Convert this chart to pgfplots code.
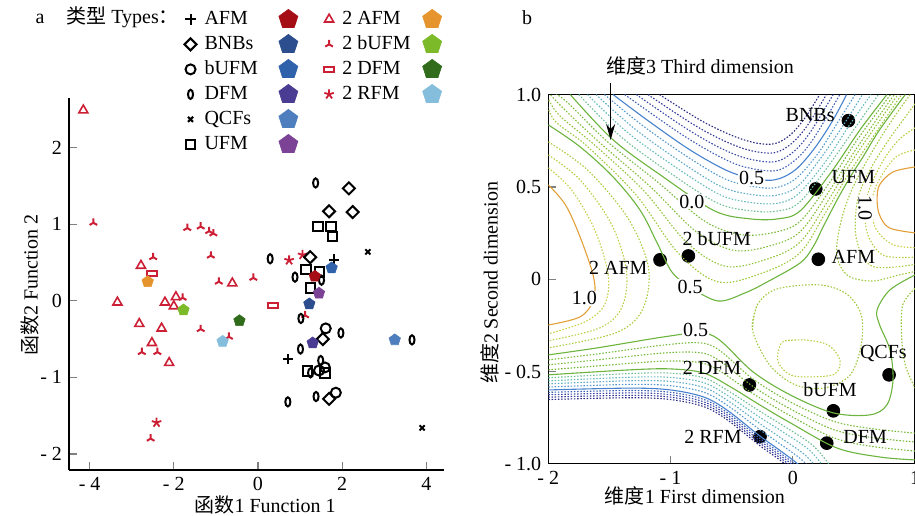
\documentclass[border=0pt]{standalone}
\usepackage{fontspec}
\setmainfont{Liberation Serif}
\newfontfamily\cjk{Noto Sans CJK SC}
\usepackage{pgfplots}
\pgfplotsset{compat=1.18}
\usetikzlibrary{arrows.meta}

% point colours
\definecolor{redm}{RGB}{204,30,52}
\definecolor{pAFM}{RGB}{166,14,22}
\definecolor{pBNB}{RGB}{44,78,142}
\definecolor{pbUFM}{RGB}{48,98,172}
\definecolor{pDFM}{RGB}{74,60,146}
\definecolor{pQCF}{RGB}{78,126,190}
\definecolor{pUFM}{RGB}{124,66,150}
\definecolor{ptAFM}{RGB}{230,148,46}
\definecolor{ptbUFM}{RGB}{124,186,42}
\definecolor{ptDFM}{RGB}{48,108,28}
\definecolor{ptRFM}{RGB}{132,190,220}
% contour colours
\definecolor{cb0}{RGB}{40,40,130}
\definecolor{cb1}{RGB}{50,55,150}
\definecolor{cb2}{RGB}{55,72,165}
\definecolor{cb3}{RGB}{62,92,182}
\definecolor{cbl}{RGB}{70,130,205}
\definecolor{cc1}{RGB}{80,150,208}
\definecolor{cc2}{RGB}{90,170,200}
\definecolor{cc3}{RGB}{100,186,185}
\definecolor{cc4}{RGB}{108,190,150}
\definecolor{cgr}{RGB}{108,180,62}
\definecolor{cy1}{RGB}{118,186,58}
\definecolor{cy2}{RGB}{132,190,56}
\definecolor{cy3}{RGB}{146,196,56}
\definecolor{cy4}{RGB}{158,200,58}
\definecolor{cy5}{RGB}{170,203,62}
\definecolor{cy6}{RGB}{184,206,66}
\definecolor{cy7}{RGB}{198,208,72}
\definecolor{cor}{RGB}{226,160,56}

\pgfdeclareplotmark{ell}{\pgfpathellipse{\pgfpointorigin}{\pgfqpoint{0.55\pgfplotmarksize}{0pt}}{\pgfqpoint{0pt}{\pgfplotmarksize}}\pgfusepathqstroke}
\pgfdeclareplotmark{hrect}{\pgfpathrectangle{\pgfqpoint{-\pgfplotmarksize}{-0.45\pgfplotmarksize}}{\pgfqpoint{2\pgfplotmarksize}{0.9\pgfplotmarksize}}\pgfusepathqstroke}
\pgfdeclareplotmark{dia}{\pgfpathmoveto{\pgfqpoint{0pt}{\pgfplotmarksize}}\pgfpathlineto{\pgfqpoint{\pgfplotmarksize}{0pt}}\pgfpathlineto{\pgfqpoint{0pt}{-\pgfplotmarksize}}\pgfpathlineto{\pgfqpoint{-\pgfplotmarksize}{0pt}}\pgfpathclose\pgfusepathqstroke}

\pgfplotsset{
  ctr/.style={no markers, smooth, tension=0.55, line width=0.55pt},
  dtr/.style={ctr, dash pattern=on 0.75pt off 0.85pt},
  mAFM/.style={only marks, mark=+, black, mark size=2.6pt, line width=1pt},
  mBNB/.style={only marks, mark=dia, black, mark size=3pt, line width=1pt},
  mbUFM/.style={only marks, mark=o, black, mark size=2.5pt, line width=1pt},
  mDFM/.style={only marks, mark=ell, black, mark size=2.3pt, line width=1pt},
  mQCF/.style={only marks, mark=x, black, mark size=1.8pt, line width=1pt},
  mUFM/.style={only marks, mark=square, black, mark size=2.4pt, line width=1pt},
  mtAFM/.style={only marks, mark=triangle, redm, mark size=2.6pt, line width=0.8pt},
  mtbUFM/.style={only marks, mark=Mercedes star, redm, mark size=2.2pt, line width=1pt},
  mtDFM/.style={only marks, mark=hrect, redm, mark size=2.6pt, line width=0.9pt},
  mtRFM/.style={only marks, mark=star, redm, mark size=2.5pt, line width=0.9pt},
  pent/.style={only marks, mark=pentagon*, mark size=#1, line width=0.3pt},
}

\begin{document}
\begin{tikzpicture}
% ---------------- panel a ----------------
\begin{axis}[
  at={(34.5pt,22.5pt)}, anchor=south west,
  scale only axis, width=187.5pt, height=186pt,
  xmin=-4.49, xmax=4.42, ymin=-2.21, ymax=2.65,
  axis lines*=left, tick align=inside, major tick length=4pt,
  axis line style={line width=0.6pt}, tick style={line width=0.6pt},
  xtick={-4,-2,0,2,4}, xticklabels={- 4,- 2,0,2,4},
  ytick={-2,-1,0,1,2}, yticklabels={- 2,- 1,0,1,2},
  xlabel={{\cjk 函数}1 Function 1},
  ylabel={{\cjk 函数}2 Function 2},
  xlabel style={at={(axis description cs:0.523,-0.094)}, anchor=center},
  ylabel style={at={(axis description cs:-0.104,0.497)}, anchor=center},
  clip=false,
  legend columns=4,
  legend cell align=left,
  legend image code/.code={\draw[#1] plot coordinates {(0pt,0pt)};},
  legend style={at={(axis description cs:0.307,1.242)}, anchor=north west,
    draw=none, fill=none, inner sep=0pt, row sep=1.5pt, column sep=0pt,
    nodes={inner sep=1pt, text height=7pt, text depth=2pt},
    /tikz/column 1/.style={column sep=3pt},
    /tikz/column 2/.style={column sep=9.5pt},
    /tikz/column 4/.style={column sep=11pt},
    /tikz/column 5/.style={column sep=3pt},
    /tikz/column 6/.style={column sep=5pt}},
]
\addlegendimage{mAFM}\addlegendentry{AFM}
\addlegendimage{pent=5pt, pAFM}\addlegendentry{}
\addlegendimage{mtAFM}\addlegendentry{2 AFM}
\addlegendimage{pent=5pt, ptAFM}\addlegendentry{}
\addlegendimage{mBNB}\addlegendentry{BNBs}
\addlegendimage{pent=5pt, pBNB}\addlegendentry{}
\addlegendimage{mtbUFM}\addlegendentry{2 bUFM}
\addlegendimage{pent=5pt, ptbUFM}\addlegendentry{}
\addlegendimage{mbUFM}\addlegendentry{bUFM}
\addlegendimage{pent=5pt, pbUFM}\addlegendentry{}
\addlegendimage{mtDFM}\addlegendentry{2 DFM}
\addlegendimage{pent=5pt, ptDFM}\addlegendentry{}
\addlegendimage{mDFM}\addlegendentry{DFM}
\addlegendimage{pent=5pt, pDFM}\addlegendentry{}
\addlegendimage{mtRFM}\addlegendentry{2 RFM}
\addlegendimage{pent=5pt, ptRFM}\addlegendentry{}
\addlegendimage{mQCF}\addlegendentry{QCFs}
\addlegendimage{pent=5pt, pQCF}\addlegendentry{}
\addlegendimage{empty legend}\addlegendentry{}
\addlegendimage{empty legend}\addlegendentry{}
\addlegendimage{mUFM}\addlegendentry{UFM}
\addlegendimage{pent=5pt, pUFM}\addlegendentry{}

\addplot[forget plot, mtAFM] coordinates {(-4.15,2.49) (-2.78,0.46) (-0.61,0.23) (-3.34,-0.02) (-2.21,-0.02) (-1.95,0.05) (-2.00,-0.07) (-2.82,-0.30) (-2.29,-0.36) (-2.52,-0.55) (-2.11,-0.81)};
\addplot[forget plot, mtbUFM] coordinates {(-3.91,1.02) (-1.68,0.95) (-1.36,0.97) (-1.16,0.91) (-1.06,0.88) (-2.49,0.57) (-1.12,0.59) (-0.93,0.25) (-0.11,0.30) (-1.79,0.04) (-1.36,-0.37) (-0.69,-0.47) (-2.76,-0.67) (-2.39,-0.67) (-2.55,-1.80) (1.12,-0.19)};
\addplot[forget plot, mtDFM] coordinates {(-2.52,0.36) (0.36,-0.06)};
\addplot[forget plot, mtRFM] coordinates {(0.74,0.53) (1.06,0.60) (-2.41,-1.59)};
\addplot[forget plot, mAFM] coordinates {(1.81,0.54) (0.72,-0.76)};
\addplot[forget plot, mBNB] coordinates {(2.16,1.47) (1.69,1.17) (2.25,1.16) (1.24,0.57) (1.54,-0.50) (1.69,-1.28)};
\addplot[forget plot, mbUFM] coordinates {(1.61,-0.36) (1.45,-0.91) (1.59,-0.87) (1.85,-1.20)};
\addplot[forget plot, mDFM] coordinates {(1.37,1.54) (0.29,0.55) (0.88,0.31) (1.51,0.27) (1.02,-0.23) (1.97,-0.42) (3.66,-0.51) (1.01,-0.63) (1.49,-0.78) (1.25,-0.94) (1.38,-1.25) (0.71,-1.32)};
\addplot[forget plot, mQCF] coordinates {(2.61,0.64) (3.90,-1.66)};
\addplot[forget plot, mUFM] coordinates {(1.43,0.97) (1.73,0.97) (1.77,0.84) (1.14,0.41) (1.46,0.38) (1.25,0.17) (1.18,-0.92) (1.59,-0.94)};
% centroids
\addplot[forget plot, pent=3pt, pAFM] coordinates {(1.35,0.32)};
\addplot[forget plot, pent=3pt, pbUFM] coordinates {(1.75,0.43)};
\addplot[forget plot, pent=3pt, pBNB] coordinates {(1.22,-0.04)};
\addplot[forget plot, pent=3pt, pDFM] coordinates {(1.30,-0.55)};
\addplot[forget plot, pent=3pt, pQCF] coordinates {(3.25,-0.51)};
\addplot[forget plot, pent=3pt, pUFM] coordinates {(1.45,0.10)};
\addplot[forget plot, pent=3pt, ptAFM] coordinates {(-2.62,0.25)};
\addplot[forget plot, pent=3pt, ptbUFM] coordinates {(-1.77,-0.12)};
\addplot[forget plot, pent=3pt, ptDFM] coordinates {(-0.44,-0.26)};
\addplot[forget plot, pent=3pt, ptRFM] coordinates {(-0.84,-0.53)};

\node[anchor=base] at (axis description cs:-0.077,1.199) {a};
\node[anchor=base west, inner sep=0pt] at (axis description cs:-0.008,1.199) {{\cjk 类型} Types{\cjk ：}};
\end{axis}

% ---------------- panel b ----------------
\begin{axis}[
  at={(274.15pt,25.6pt)}, anchor=south west,
  scale only axis, width=183.35pt, height=184.6pt,
  xmin=-2, xmax=1, ymin=-1, ymax=1,
  tick pos=left, tick align=inside, major tick length=4pt,
  axis line style={line width=0.6pt}, tick style={line width=0.6pt},
  xtick={-2,-1,0,1}, xticklabels={- 2,- 1,0,1},
  ytick={-1,-0.5,0,0.5,1}, yticklabels={- 1.0,- 0.5,0,0.5,1.0},
  xlabel={{\cjk 维度}1 First dimension},
  ylabel={{\cjk 维度}2 Second dimension},
  xlabel style={at={(axis description cs:0.40,-0.087)}, anchor=center},
  ylabel style={at={(axis description cs:-0.159,0.49)}, anchor=center},
  clip mode=individual,
]
\addplot[only marks, mark=*, mark size=3.2pt, black] coordinates {(0.455,0.859) (0.188,0.489) (0.209,0.108) (-0.854,0.126) (-1.086,0.105) (0.788,-0.518) (0.332,-0.713) (0.278,-0.888) (-0.355,-0.573) (-0.268,-0.853)};

% upper basin
\addplot[dtr, cb0] coordinates {(-1.09,1) (-0.76,0.863) (-0.51,0.782) (-0.31,0.739) (-0.15,0.734) (-0.02,0.782) (0.10,0.874) (0.22,1)};
\addplot[dtr, cb1] coordinates {(-1.185,1) (-0.82,0.841) (-0.56,0.749) (-0.345,0.697) (-0.15,0.685) (-0.01,0.735) (0.12,0.833) (0.275,1)};
\addplot[dtr, cb2] coordinates {(-1.28,1) (-0.88,0.820) (-0.605,0.715) (-0.38,0.655) (-0.15,0.636) (0.0,0.687) (0.14,0.793) (0.33,1)};
\addplot[dtr, cb3] coordinates {(-1.375,1) (-0.94,0.798) (-0.65,0.682) (-0.415,0.612) (-0.15,0.587) (0.01,0.640) (0.16,0.752) (0.385,1)};
\addplot[ctr, cbl] coordinates {(-1.47,1) (-1.17,0.852) (-0.84,0.700) (-0.55,0.592) (-0.35,0.549) (-0.15,0.538) (0.02,0.592) (0.18,0.711) (0.33,0.863) (0.44,1)};
\addplot[dtr, cc1] coordinates {(-1.54,1) (-1.23,0.833) (-0.88,0.671) (-0.57,0.548) (-0.35,0.505) (-0.14,0.496) (0.03,0.548) (0.21,0.684) (0.37,0.852) (0.51,1)};
\addplot[dtr, cc2] coordinates {(-1.61,1) (-1.29,0.813) (-0.93,0.642) (-0.59,0.503) (-0.35,0.460) (-0.14,0.454) (0.04,0.503) (0.23,0.657) (0.42,0.841) (0.57,1)};
\addplot[dtr, cc3] coordinates {(-1.68,1) (-1.35,0.794) (-0.97,0.612) (-0.60,0.459) (-0.35,0.416) (-0.13,0.411) (0.04,0.459) (0.26,0.630) (0.46,0.831) (0.64,1)};
\addplot[dtr, cc4] coordinates {(-1.75,1) (-1.41,0.774) (-1.02,0.583) (-0.62,0.414) (-0.35,0.371) (-0.13,0.369) (0.05,0.414) (0.28,0.603) (0.51,0.820) (0.70,1)};
\addplot[ctr, cgr] coordinates {(-1.82,1) (-1.47,0.755) (-1.06,0.554) (-0.64,0.370) (-0.35,0.327) (-0.12,0.327) (0.06,0.370) (0.31,0.576) (0.55,0.809) (0.77,1)};
\addplot[dtr, cy1] coordinates {(-2.05,1.05) (-1.86,0.967) (-1.52,0.747) (-1.11,0.529) (-0.72,0.314) (-0.42,0.241) (-0.15,0.254) (0.06,0.314) (0.30,0.523) (0.53,0.758) (0.80,1)};
\addplot[dtr, cy2] coordinates {(-2.05,1.05) (-1.89,0.934) (-1.58,0.740) (-1.17,0.504) (-0.79,0.257) (-0.48,0.156) (-0.18,0.182) (0.06,0.257) (0.29,0.470) (0.52,0.707) (0.83,1)};
\addplot[dtr, cy3] coordinates {(-2.05,1.05) (-1.93,0.902) (-1.63,0.732) (-1.22,0.480) (-0.87,0.201) (-0.55,0.070) (-0.21,0.109) (0.06,0.201) (0.28,0.416) (0.50,0.656) (0.86,1)};
\addplot[dtr, cy4] coordinates {(-2.05,1.05) (-1.96,0.869) (-1.69,0.725) (-1.28,0.455) (-0.94,0.144) (-0.61,-0.015) (-0.24,0.036) (0.06,0.144) (0.27,0.363) (0.49,0.605) (0.89,1)};
\addplot[ctr, cgr] coordinates {(-2.00,0.836) (-1.74,0.717) (-1.47,0.554) (-1.25,0.375) (-1.11,0.197) (-0.99,0.040) (-0.84,-0.042) (-0.61,-0.118) (-0.39,-0.074) (-0.21,-0.015) (0.06,0.088) (0.166,0.175) (0.248,0.283) (0.363,0.430) (0.47,0.554) (0.575,0.663) (0.71,0.809) (0.92,1)};
% left high region
\addplot[dtr, cy5] coordinates {(-2,0.744) (-1.68,0.592) (-1.35,0.332) (-1.18,0.061) (-1.23,-0.166) (-1.45,-0.291) (-2,-0.372)};
\addplot[dtr, cy6] coordinates {(-2,0.673) (-1.74,0.538) (-1.48,0.294) (-1.36,0.040) (-1.40,-0.155) (-1.58,-0.264) (-2,-0.334)};
\addplot[dtr, cy7] coordinates {(-2,0.603) (-1.81,0.484) (-1.62,0.267) (-1.51,0.023) (-1.54,-0.139) (-1.70,-0.231) (-2,-0.296)};
\addplot[ctr, cor] coordinates {(-2.00,0.511) (-1.86,0.403) (-1.74,0.229) (-1.63,0.012) (-1.63,-0.112) (-1.74,-0.204) (-2.00,-0.248)};
% right high region
\addplot[dtr, cy4] coordinates {(0.96,1.0) (0.80,0.85) (0.64,0.68) (0.48,0.48) (0.39,0.30) (0.36,0.13) (0.45,0.02) (0.65,-0.01) (0.85,0.02) (1.0,0.042)};
\addplot[dtr, cy5] coordinates {(1.0,0.95) (0.90,0.86) (0.77,0.74) (0.63,0.59) (0.53,0.43) (0.52,0.22) (0.65,0.07) (1.0,0.08)};
\addplot[dtr, cy6] coordinates {(1.0,0.82) (0.86,0.75) (0.72,0.62) (0.60,0.43) (0.61,0.25) (0.74,0.13) (1.0,0.12)};
\addplot[dtr, cy7] coordinates {(1.0,0.70) (0.84,0.66) (0.70,0.53) (0.645,0.41) (0.675,0.28) (0.81,0.19) (1.0,0.17)};
\addplot[ctr, cor] coordinates {(1.0,0.608) (0.82,0.581) (0.71,0.511) (0.69,0.430) (0.71,0.348) (0.79,0.278) (1.0,0.251)};
% lower basin
\addplot[ctr, cgr] coordinates {(-2.00,-0.410) (-1.60,-0.372) (-1.06,-0.313) (-0.76,-0.291) (-0.60,-0.329) (-0.325,-0.502) (-0.02,-0.627) (0.33,-0.724) (0.63,-0.735) (0.77,-0.681) (0.82,-0.546) (0.795,-0.383) (0.71,-0.247) (0.69,-0.166) (0.795,-0.058) (1.00,0.023)};
\addplot[dtr, cy1] coordinates {(-2,-0.437) (-1.60,-0.405) (-1.06,-0.357) (-0.76,-0.345) (-0.60,-0.385) (-0.325,-0.541) (-0.02,-0.665) (0.33,-0.769) (0.63,-0.808) (1.0,-0.834)};
\addplot[dtr, cy1] coordinates {(-2,-0.464) (-1.60,-0.437) (-1.06,-0.400) (-0.76,-0.398) (-0.60,-0.441) (-0.325,-0.581) (-0.02,-0.703) (0.33,-0.814) (0.63,-0.856) (1.0,-0.882)};
\addplot[dtr, cy1] coordinates {(-2,-0.491) (-1.60,-0.470) (-1.06,-0.444) (-0.76,-0.452) (-0.60,-0.496) (-0.325,-0.620) (-0.02,-0.740) (0.33,-0.858) (0.63,-0.904) (1.0,-0.931)};
\addplot[ctr, cgr] coordinates {(-2.00,-0.518) (-1.33,-0.491) (-1.00,-0.486) (-0.73,-0.508) (-0.51,-0.583) (-0.27,-0.681) (-0.02,-0.778) (0.36,-0.914) (0.71,-0.963) (1.00,-0.979)};
\addplot[dtr, cc4] coordinates {(-2,-0.534) (-1.33,-0.511) (-1.00,-0.509) (-0.73,-0.534) (-0.54,-0.600) (-0.27,-0.715) (-0.06,-0.801) (0.17,-0.904) (0.34,-1.04)};
\addplot[dtr, cc3] coordinates {(-2,-0.551) (-1.33,-0.531) (-1.00,-0.532) (-0.73,-0.560) (-0.54,-0.627) (-0.27,-0.748) (-0.07,-0.832) (0.14,-0.928) (0.28,-1.04)};
\addplot[dtr, cc2] coordinates {(-2,-0.567) (-1.33,-0.550) (-1.00,-0.554) (-0.73,-0.586) (-0.54,-0.654) (-0.27,-0.782) (-0.09,-0.863) (0.10,-0.952) (0.22,-1.04)};
\addplot[dtr, cc1] coordinates {(-2,-0.584) (-1.33,-0.570) (-1.00,-0.577) (-0.73,-0.612) (-0.54,-0.681) (-0.27,-0.815) (-0.10,-0.894) (0.07,-0.976) (0.16,-1.04)};
\addplot[ctr, cbl] coordinates {(-2,-0.600) (-1.33,-0.590) (-1.00,-0.600) (-0.73,-0.638) (-0.54,-0.708) (-0.27,-0.849) (-0.11,-0.925) (0.04,-1.0) (0.10,-1.04)};
\addplot[dtr, cb3] coordinates {(-2,-0.613) (-1.33,-0.603) (-1.00,-0.613) (-0.73,-0.651) (-0.54,-0.721) (-0.27,-0.862) (-0.11,-0.938) (0.04,-1.013)};
\addplot[dtr, cb2] coordinates {(-2,-0.626) (-1.33,-0.616) (-1.00,-0.626) (-0.73,-0.664) (-0.54,-0.734) (-0.27,-0.875) (-0.11,-0.951) (0.04,-1.026)};
\addplot[dtr, cb1] coordinates {(-2,-0.639) (-1.33,-0.629) (-1.00,-0.639) (-0.73,-0.677) (-0.54,-0.747) (-0.27,-0.888) (-0.11,-0.964) (0.04,-1.039)};
\addplot[dtr, cb0] coordinates {(-2,-0.652) (-1.33,-0.642) (-1.00,-0.652) (-0.73,-0.690) (-0.54,-0.760) (-0.27,-0.901) (-0.11,-0.977) (0.04,-1.052)};
% closed loops near bUFM / QCFs
\addplot[dtr, cy4] coordinates {(-0.33,-0.275) (-0.29,-0.139) (-0.13,-0.053) (0.22,-0.031) (0.44,-0.080) (0.56,-0.193) (0.56,-0.356) (0.47,-0.518) (0.26,-0.589) (0.02,-0.572) (-0.19,-0.464) (-0.33,-0.275) (-0.29,-0.139)};
\addplot[dtr, cy6] coordinates {(-0.065,-0.334) (0.099,-0.329) (0.288,-0.356) (0.386,-0.437) (0.345,-0.513) (0.157,-0.529) (-0.022,-0.518) (-0.12,-0.448) (-0.11,-0.372) (-0.065,-0.334) (0.099,-0.329)};
\addplot[dtr, cy3] coordinates {(1.0,-0.050) (0.90,-0.139) (0.89,-0.302) (0.92,-0.464) (1.0,-0.590)};

% contour labels
\node[fill=white, inner sep=0.4pt] at (axis cs:-0.336,0.547) {0.5};
\node[fill=white, inner sep=0.4pt] at (axis cs:-0.826,0.420) {0.0};
\node[fill=white, inner sep=0.4pt] at (axis cs:-0.840,-0.040) {0.5};
\node[fill=white, inner sep=0.4pt] at (axis cs:-0.794,-0.275) {0.5};
\node[fill=white, inner sep=0.4pt] at (axis cs:-1.705,-0.103) {1.0};
\node[fill=white, inner sep=0.4pt, rotate=-90] at (axis cs:0.592,0.385) {1.0};
% point labels
\node at (axis cs:0.142,0.890) {BNBs};
\node at (axis cs:0.496,0.556) {UFM};
\node at (axis cs:0.496,0.122) {AFM};
\node at (axis cs:-0.622,0.222) {2 bUFM};
\node at (axis cs:-1.427,0.060) {2 AFM};
\node at (axis cs:0.741,-0.401) {QCFs};
\node at (axis cs:0.305,-0.600) {bUFM};
\node at (axis cs:0.592,-0.853) {DFM};
\node at (axis cs:-0.660,-0.480) {2 DFM};
\node at (axis cs:-0.653,-0.853) {2 RFM};

\draw[-{Stealth[length=8pt,width=4.5pt]}, line width=0.8pt] (axis cs:-1.49,1.063) -- (axis cs:-1.49,0.754);
\node[anchor=base] at (axis description cs:0.414,1.058) {{\cjk 维度}3 Third dimension};
\node[anchor=base] at (axis description cs:-0.058,1.191) {b};
\end{axis}
\pgfresetboundingbox
\useasboundingbox (0,0) rectangle (457.5pt,257.5pt);
\end{tikzpicture}
\end{document}
